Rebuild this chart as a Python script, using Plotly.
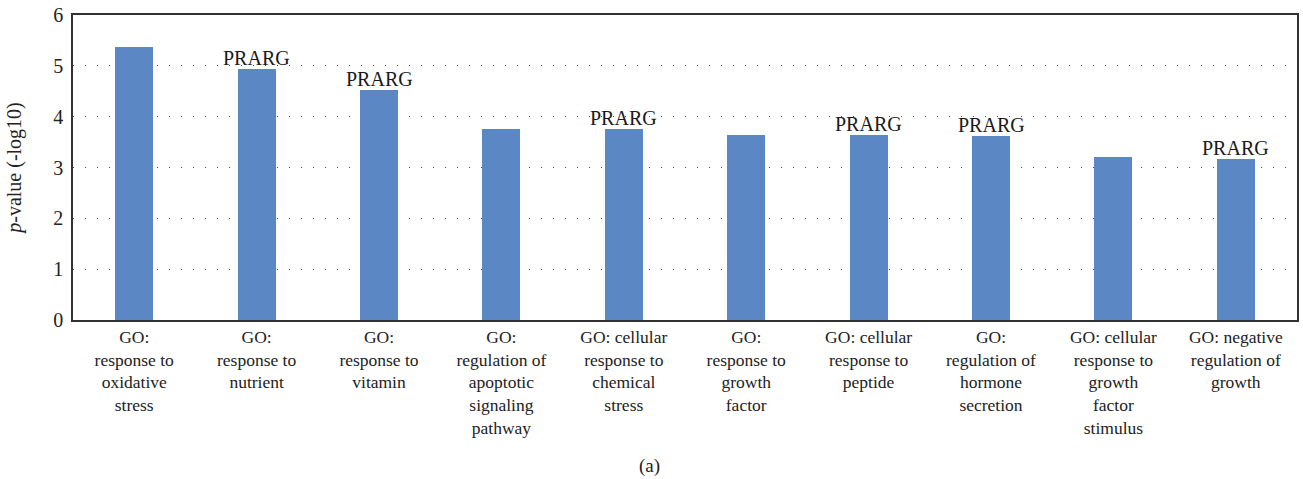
import plotly.graph_objects as go

# GO terms (category labels, wrapped as displayed)
categories = [
    "GO:<br>response to<br>oxidative<br>stress",
    "GO:<br>response to<br>nutrient",
    "GO:<br>response to<br>vitamin",
    "GO:<br>regulation of<br>apoptotic<br>signaling<br>pathway",
    "GO: cellular<br>response to<br>chemical<br>stress",
    "GO:<br>response to<br>growth<br>factor",
    "GO: cellular<br>response to<br>peptide",
    "GO:<br>regulation of<br>hormone<br>secretion",
    "GO: cellular<br>response to<br>growth<br>factor<br>stimulus",
    "GO: negative<br>regulation of<br>growth",
]

# -log10(p-value) per term
neg_log_p = [5.38, 4.93, 4.53, 3.76, 3.76, 3.64, 3.64, 3.62, 3.21, 3.17]

# gene annotation shown above the bar (empty where none)
gene_labels = ["", "PRARG", "PRARG", "", "PRARG", "", "PRARG", "PRARG", "", "PRARG"]

y_ticks = [0, 1, 2, 3, 4, 5, 6]

FONT = "Liberation Serif, Times New Roman, serif"
TEXT_COLOR = "#222222"

x_pos = list(range(len(categories)))

fig = go.Figure(
    go.Bar(
        x=x_pos,
        y=neg_log_p,
        marker=dict(color="#5B87C4", line=dict(width=0)),
        width=0.31,
    )
)

# gene labels sit just above their bars
for xi, yi, lab in zip(x_pos, neg_log_p, gene_labels):
    if lab:
        fig.add_annotation(
            x=xi,
            y=yi,
            xref="x",
            yref="y",
            text=lab,
            showarrow=False,
            xanchor="center",
            yanchor="bottom",
            yshift=-2,
            font=dict(family=FONT, size=20, color="#1a1a1a"),
        )

fig.update_layout(
    width=1303,
    height=479,
    margin=dict(l=73, r=4, t=13, b=159),
    paper_bgcolor="white",
    plot_bgcolor="white",
    font=dict(family=FONT, size=17.5, color=TEXT_COLOR),
    showlegend=False,
    bargap=0,
)

fig.update_xaxes(
    tickmode="array",
    tickvals=x_pos,
    ticktext=categories,
    range=[-0.5, len(categories) - 0.5],
    showline=True,
    linecolor="#333333",
    linewidth=1.5,
    mirror=True,
    ticks="",
    showgrid=False,
    tickfont=dict(family=FONT, size=17.5, color=TEXT_COLOR),
)

fig.update_yaxes(
    range=[0, 6],
    tickmode="array",
    tickvals=y_ticks,
    ticktext=[str(v) for v in y_ticks],
    showline=True,
    linecolor="#333333",
    linewidth=1.5,
    mirror=True,
    ticks="",
    ticklabelstandoff=4,
    showgrid=True,
    gridcolor="#555555",
    gridwidth=1,
    griddash="1px,11px",
    zeroline=False,
    tickfont=dict(family=FONT, size=20, color=TEXT_COLOR),
    title=dict(
        text="<i>p</i>-value (-log10)",
        font=dict(family=FONT, size=20, color=TEXT_COLOR),
        standoff=26,
    ),
)

fig.add_annotation(
    text="(a)",
    xref="paper",
    yref="paper",
    x=(650 - 73) / (1303 - 73 - 4),
    y=-0.48,
    xanchor="center",
    yanchor="middle",
    showarrow=False,
    font=dict(family=FONT, size=19, color=TEXT_COLOR),
)

fig.write_html("out.html")
